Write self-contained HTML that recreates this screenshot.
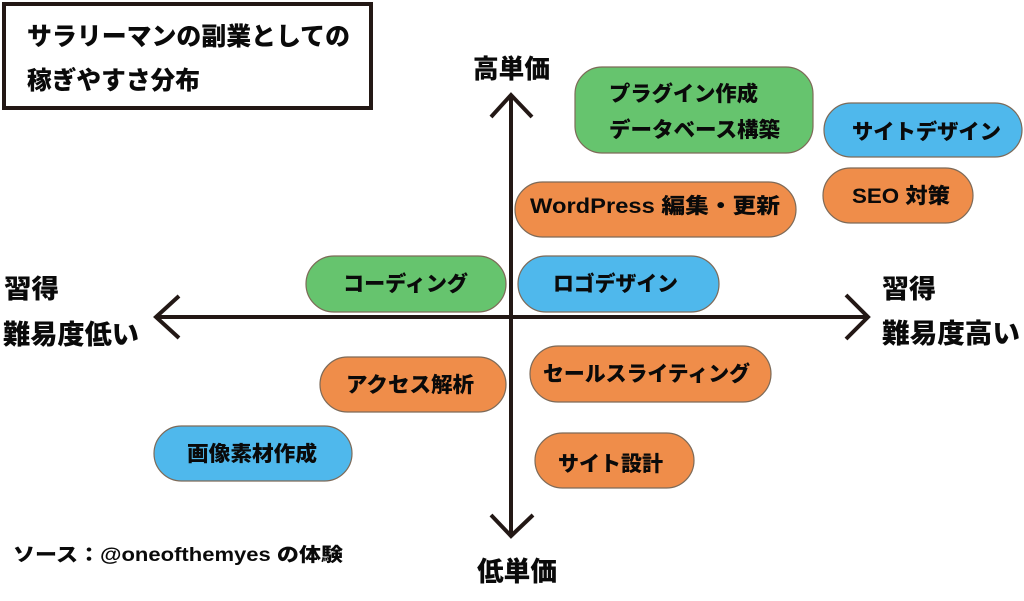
<!DOCTYPE html>
<html lang="ja">
<head>
<meta charset="UTF-8">
<style>
  html, body { margin: 0; padding: 0; background: #ffffff; }
  body { width: 1024px; height: 601px; overflow: hidden; }
  svg { display: block; }
  text { font-family: "Liberation Sans", "Noto Sans CJK JP", sans-serif; font-weight: 900; fill: #0a0a0a; }
</style>
</head>
<body>
<svg width="1024" height="601" viewBox="0 0 1024 601" xmlns="http://www.w3.org/2000/svg">
  <rect x="0" y="0" width="1024" height="601" fill="#ffffff"/>

  <!-- Title box -->
  <rect x="4" y="4" width="367" height="104" fill="#ffffff" stroke="#231815" stroke-width="4"/>
  <text x="27" y="45" font-size="25" textLength="323" lengthAdjust="spacingAndGlyphs">サラリーマンの副業としての</text>
  <text x="27" y="89" font-size="25" textLength="173" lengthAdjust="spacingAndGlyphs">稼ぎやすさ分布</text>

  <!-- Axes -->
  <g stroke="#231815" stroke-width="4" fill="none" stroke-linecap="butt" stroke-linejoin="miter">
    <line x1="511" y1="96" x2="511" y2="535"/>
    <line x1="156" y1="317" x2="867" y2="317"/>
    <polyline points="491,117 511,95 532,117"/>
    <polyline points="491,515 511,536 533,515"/>
    <polyline points="179,296 156,317 179,338"/>
    <polyline points="846,295 868,317 846,339"/>
  </g>

  <!-- Axis labels -->
  <text x="473" y="78" font-size="26" textLength="77" lengthAdjust="spacingAndGlyphs">高単価</text>
  <text x="477" y="581" font-size="27" textLength="80" lengthAdjust="spacingAndGlyphs">低単価</text>
  <text x="4" y="298" font-size="26" textLength="55" lengthAdjust="spacingAndGlyphs">習得</text>
  <text x="3" y="344" font-size="27" textLength="136" lengthAdjust="spacingAndGlyphs">難易度低い</text>
  <text x="882" y="298" font-size="26" textLength="54" lengthAdjust="spacingAndGlyphs">習得</text>
  <text x="882" y="343" font-size="27" textLength="138" lengthAdjust="spacingAndGlyphs">難易度高い</text>

  <!-- Pills -->
  <g stroke="#7d6a58" stroke-width="1.2">
    <rect x="575" y="67" width="238" height="86" rx="27" ry="27" fill="#66c46e"/>
    <rect x="824" y="103" width="198" height="54" rx="27" ry="27" fill="#4fb8ec"/>
    <rect x="823" y="168" width="150" height="55" rx="27.5" ry="27.5" fill="#ef8d4a"/>
    <rect x="515" y="182" width="281" height="55" rx="27.5" ry="27.5" fill="#ef8d4a"/>
    <rect x="306" y="256" width="200" height="56" rx="28" ry="28" fill="#66c46e"/>
    <rect x="518" y="256" width="201" height="56" rx="28" ry="28" fill="#4fb8ec"/>
    <rect x="320" y="357" width="186" height="55" rx="27.5" ry="27.5" fill="#ef8d4a"/>
    <rect x="530" y="346" width="241" height="56" rx="28" ry="28" fill="#ef8d4a"/>
    <rect x="154" y="426" width="198" height="55" rx="27.5" ry="27.5" fill="#4fb8ec"/>
    <rect x="535" y="433" width="159" height="55" rx="27.5" ry="27.5" fill="#ef8d4a"/>
  </g>

  <!-- Pill labels -->
  <text x="609" y="101" font-size="21" textLength="149" lengthAdjust="spacingAndGlyphs">プラグイン作成</text>
  <text x="609" y="137" font-size="21" textLength="171" lengthAdjust="spacingAndGlyphs">データベース構築</text>
  <text x="852" y="139" font-size="21" textLength="149" lengthAdjust="spacingAndGlyphs">サイトデザイン</text>
  <text x="852" y="203" font-size="21" textLength="98" lengthAdjust="spacingAndGlyphs">SEO 対策</text>
  <text x="530" y="213" font-size="21" textLength="250" lengthAdjust="spacingAndGlyphs">WordPress 編集・更新</text>
  <text x="343" y="291" font-size="21" textLength="125" lengthAdjust="spacingAndGlyphs">コーディング</text>
  <text x="553" y="291" font-size="21" textLength="125" lengthAdjust="spacingAndGlyphs">ロゴデザイン</text>
  <text x="346" y="392" font-size="21" textLength="128" lengthAdjust="spacingAndGlyphs">アクセス解析</text>
  <text x="543" y="381" font-size="21" textLength="207" lengthAdjust="spacingAndGlyphs">セールスライティング</text>
  <text x="187" y="461" font-size="21" textLength="130" lengthAdjust="spacingAndGlyphs">画像素材作成</text>
  <text x="558" y="471" font-size="21" textLength="105" lengthAdjust="spacingAndGlyphs">サイト設計</text>

  <!-- Source -->
  <text x="13" y="561" font-size="19" textLength="330" lengthAdjust="spacingAndGlyphs">ソース：@oneofthemyes の体験</text>
</svg>
</body>
</html>
